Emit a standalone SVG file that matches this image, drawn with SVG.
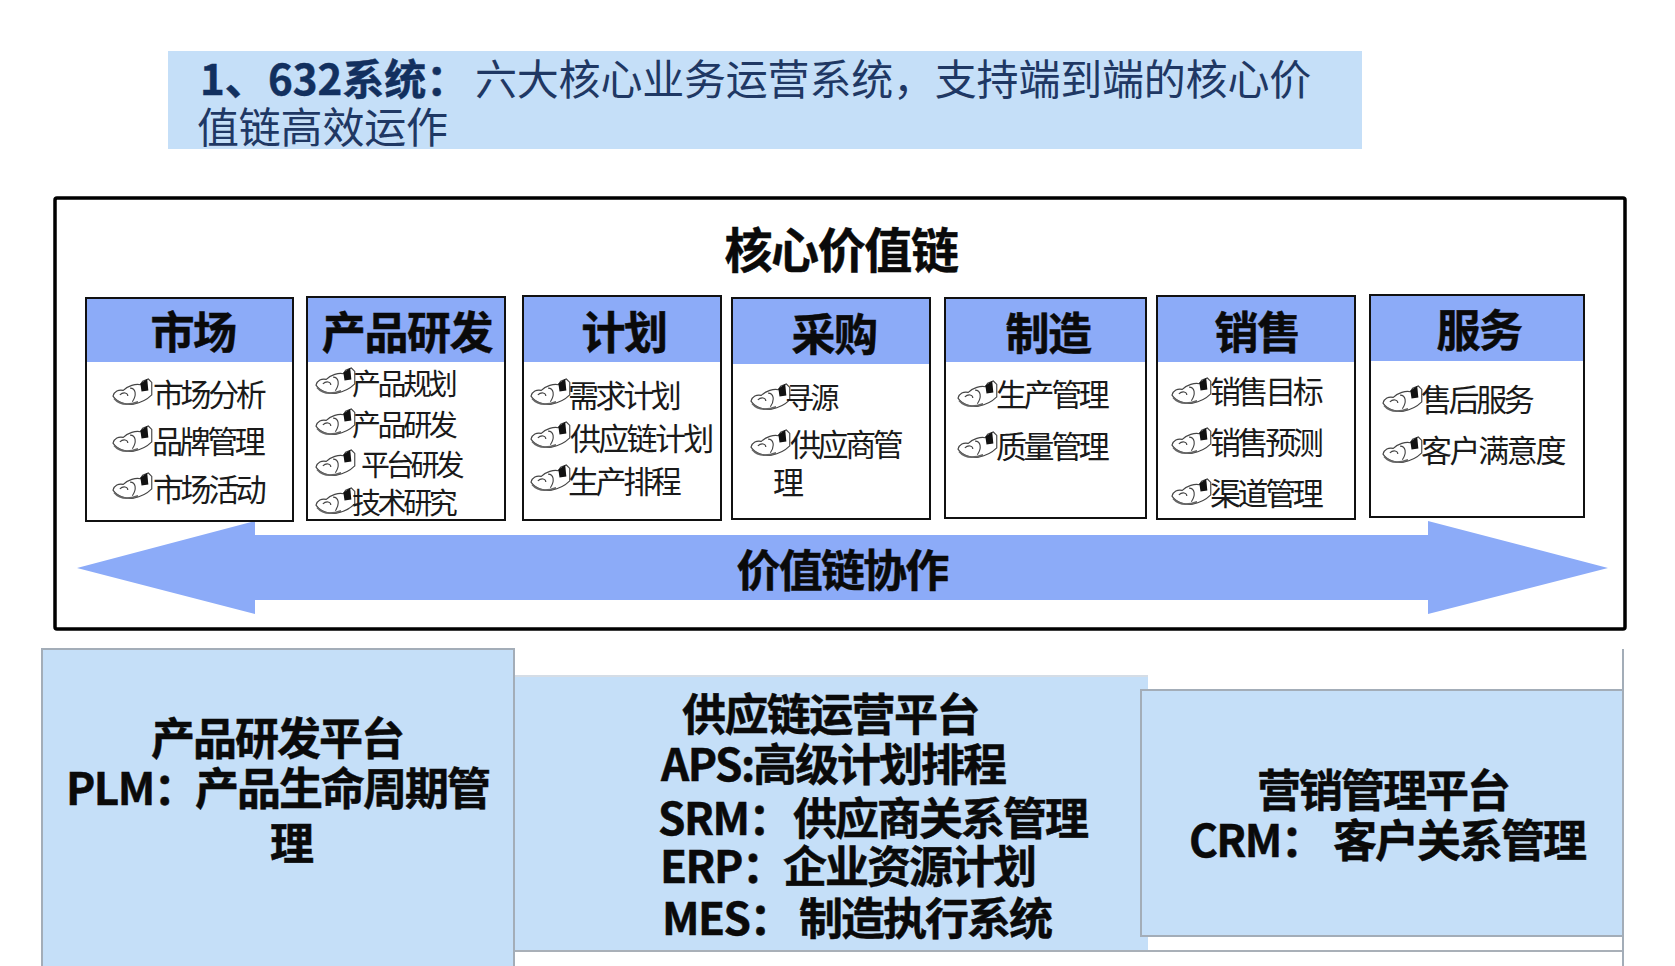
<svg xmlns="http://www.w3.org/2000/svg" xmlns:xlink="http://www.w3.org/1999/xlink" width="1675" height="966" viewBox="0 0 1675 966">
<style>
text{font-family:"Noto Sans CJK SC","Noto Sans",sans-serif;fill:#0a0a0a}
.hd{font-weight:700;font-size:44px;text-anchor:middle;letter-spacing:-1.4px;stroke:#0a0a0a;stroke-width:.5}
.it{font-size:31px;letter-spacing:-3.4px;fill:#1a1a1a}
.sm{font-size:29px;letter-spacing:-3.4px}
.col{fill:#fff;stroke:#111;stroke-width:2}
.bar{fill:#8cabf8}
.pf{fill:#c5dff8;stroke:#a3adb8;stroke-width:2}
.big{font-weight:700;font-size:44px;letter-spacing:-2px;stroke:#0a0a0a;stroke-width:.5}
.lat{font-weight:700;font-size:44px;letter-spacing:-1.5px;stroke:#0a0a0a;stroke-width:.5}
.hb{font-size:42px;font-weight:700;fill:#12305f;stroke:#12305f;stroke-width:.5}
.hr{font-size:42px;letter-spacing:-.2px;fill:#1f3864}
.hand{fill:#fff;stroke:#444;stroke-width:1}
</style>
<defs>
<g id="h" transform="translate(-1,-6) scale(1.14)">
<path class="hand" d="M0 15C1 11 5 9 9 10C13 6 20 4 24 5L26 2L31 0L34 3V14C30 18 24 21 18 22C12 23 4 21 0 15Z"/>
<path d="M1 17C6 23 14 23 22 20" fill="none" stroke="#666" stroke-width="1.6"/>
<path class="hand" d="M6 14C9 11 13 12 13 15M15 8C20 8 21 14 17 20" fill="none"/>
<path d="M24 4L30 0L31 10L25 11Z" fill="#111"/>
</g>
</defs>
<rect width="1675" height="966" fill="#fff"/>
<g id="header">
<rect x="168" y="51" width="1194" height="98" fill="#c5dff8"/>
<text class="hb" x="200" y="95">1、</text><text class="hb" x="268" y="95">632系统：</text>
<text class="hr" x="475" y="95">六大核心业务运营系统，支持端到端的核心价</text>
<text class="hr" x="197" y="143">值链高效运作</text>
</g>
<g id="core">
<rect x="55" y="198" width="1570" height="431" fill="#fff" stroke="#000" stroke-width="3.5" rx="2"/>
<text x="841" y="268" class="hd" style="font-size:48px">核心价值链</text>
</g>
<g id="connectors">
<path id="arrow" d="M77 568L255 521V535H1428V521L1608 568L1428 614V600H255V614Z" fill="#8cabf8"/>
<text x="842" y="587" class="hd" style="letter-spacing:-1.8px">价值链协作</text>
</g>
<g id="n1"><rect class="col" x="86" y="298" width="207" height="223"/><rect class="bar" x="87" y="299" width="205" height="63"/><text class="hd" x="193" y="349">市场</text>
<use xlink:href="#h" x="114" y="385"/><text class="it" x="153" y="406">市场分析</text>
<use xlink:href="#h" x="114" y="432"/><text class="it" x="152" y="453">品牌管理</text>
<use xlink:href="#h" x="114" y="479"/><text class="it" x="153" y="501">市场活动</text></g>
<g id="n2"><rect class="col" x="307" y="297" width="198" height="223"/><rect class="bar" x="308" y="298" width="196" height="64"/><text class="hd" x="407" y="349">产品研发</text>
<use xlink:href="#h" x="317" y="374"/><text class="it sm" x="352" y="395">产品规划</text>
<use xlink:href="#h" x="317" y="415"/><text class="it sm" x="352" y="436">产品研发</text>
<use xlink:href="#h" x="317" y="456"/><text class="it sm" x="361" y="476" style="letter-spacing:-4.2px">平台研发</text>
<use xlink:href="#h" x="317" y="494"/><text class="it sm" x="352" y="514">技术研究</text></g>
<g id="n3"><rect class="col" x="523" y="296" width="198" height="224"/><rect class="bar" x="524" y="297" width="196" height="65"/><text class="hd" x="624" y="349">计划</text>
<use xlink:href="#h" x="532" y="385"/><text class="it" x="568" y="407">需求计划</text>
<use xlink:href="#h" x="532" y="428"/><text class="it" x="570" y="450" style="letter-spacing:-2.7px">供应链计划</text>
<use xlink:href="#h" x="532" y="471"/><text class="it" x="568" y="493">生产排程</text></g>
<g id="n4"><rect class="col" x="732" y="298" width="198" height="221"/><rect class="bar" x="733" y="299" width="196" height="65"/><text class="hd" x="834" y="351">采购</text>
<use xlink:href="#h" x="752" y="390"/><text class="it sm" x="785" y="409">寻源</text>
<use xlink:href="#h" x="752" y="436"/><text class="it" x="790" y="456">供应商管</text>
<text class="it" x="773" y="494">理</text></g>
<g id="n5"><rect class="col" x="945" y="298" width="201" height="220"/><rect class="bar" x="946" y="299" width="199" height="63"/><text class="hd" x="1048" y="350">制造</text>
<use xlink:href="#h" x="959" y="387"/><text class="it" x="996" y="406">生产管理</text>
<use xlink:href="#h" x="959" y="438"/><text class="it" x="996" y="458">质量管理</text></g>
<g id="n6"><rect class="col" x="1157" y="296" width="198" height="223"/><rect class="bar" x="1158" y="297" width="196" height="65"/><text class="hd" x="1257" y="349">销售</text>
<use xlink:href="#h" x="1173" y="384"/><text class="it" x="1210" y="403">销售目标</text>
<use xlink:href="#h" x="1173" y="434"/><text class="it" x="1210" y="454">销售预测</text>
<use xlink:href="#h" x="1173" y="485"/><text class="it" x="1210" y="505">渠道管理</text></g>
<g id="n7"><rect class="col" x="1370" y="295" width="214" height="222"/><rect class="bar" x="1371" y="296" width="212" height="65"/><text class="hd" x="1479" y="347">服务</text>
<use xlink:href="#h" x="1384" y="392"/><text class="it" x="1421" y="411">售后服务</text>
<use xlink:href="#h" x="1384" y="443"/><text class="it" x="1421" y="462" style="letter-spacing:-2.4px">客户满意度</text></g>
<g id="p1"><rect class="pf" x="42" y="649" width="472" height="330"/>
<text class="big" x="151" y="755">产品研发平台</text>
<text class="lat" x="66" y="805">PLM：</text><text class="big" x="195" y="805">产品生命周期管</text>
<text class="big" x="270" y="860">理</text></g>
<g id="p2"><path d="M515 676H1148V951H515Z" fill="#c5dff8"/><path d="M515 676H1148" stroke="#d5dde6" stroke-width="2" fill="none"/>
<path d="M515 951H1622" stroke="#a9b0b8" stroke-width="2" fill="none"/>
<text class="big" x="682" y="731" style="letter-spacing:-1.6px">供应链运营平台</text>
<text class="lat" x="661" y="781">APS:</text><text class="big" x="753" y="781">高级计划排程</text>
<text class="lat" x="658" y="835">SRM：</text><text class="big" x="793" y="835">供应商关系管理</text>
<text class="lat" x="660" y="883">ERP：</text><text class="big" x="783" y="883">企业资源计划</text>
<text class="lat" x="662" y="935">MES：</text><text class="big" x="799" y="935">制造执行系统</text></g>
<g id="p3"><rect class="pf" x="1141" y="690" width="482" height="246"/>
<path d="M1623 649V966" stroke="#a3adb8" stroke-width="2" fill="none"/>
<text class="big" x="1257" y="807">营销管理平台</text>
<text class="lat" x="1189" y="857">CRM：</text><text class="big" x="1333" y="857">客户关系管理</text></g>
</svg>
